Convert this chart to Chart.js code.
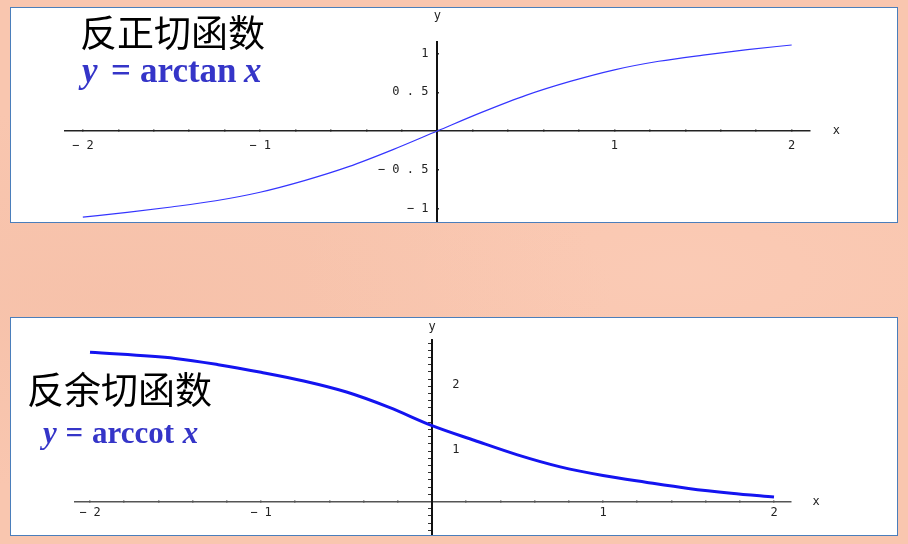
<!DOCTYPE html>
<html><head><meta charset="utf-8">
<script src="https://cdn.jsdelivr.net/npm/chart.js@4"></script>
<style>
html,body{margin:0;padding:0;}
body{width:908px;height:544px;position:relative;overflow:hidden;background:#f9c6af;
background-image:radial-gradient(ellipse at 12% 55%,rgba(238,180,155,.25),transparent 45%),radial-gradient(ellipse at 75% 50%,rgba(255,215,198,.25),transparent 40%);}
.panel{position:absolute;left:10px;width:886px;background:#fff;border:1px solid #4a7ebb;}
#p1{top:7px;height:214px;}
#p2{top:317px;height:217px;}
.panel canvas{position:absolute;left:0;top:0;}
.cn{position:absolute;font-family:"Noto Sans CJK SC";line-height:1;color:#000;white-space:nowrap;}
.fm{position:absolute;font-family:"Liberation Serif";font-weight:bold;color:#3535c8;line-height:1;white-space:pre;}
.fm i{font-style:italic;}
.fm span{position:absolute;top:0;}
</style></head>
<body>
<div class="panel" id="p1"><canvas id="c1" width="886" height="214"></canvas></div>
<div class="panel" id="p2"><canvas id="c2" width="886" height="217"></canvas></div>
<div class="cn" style="left:80px;top:13px;font-size:37px;">反正切函数</div>
<div class="fm" style="left:82px;top:53px;font-size:35px;"><span style="left:0"><i>y</i></span><span style="left:29px">=</span><span style="left:58px">arctan</span><span style="left:162px"><i>x</i></span></div>
<div class="cn" style="left:27px;top:370px;font-size:37px;">反余切函数</div>
<div class="fm" style="left:43px;top:417px;font-size:31px;word-spacing:1px;"><i>y</i> = arccot <i>x</i></div>
<script>
// ---- data ----
const arctanX = [-2,-1.75,-1.5,-1.25,-1,-0.75,-0.5,-0.25,0,0.25,0.5,0.75,1,1.25,1.5,1.75,2];
const arctanY = [-1.11,-1.05,-0.98,-0.90,-0.79,-0.64,-0.46,-0.24,0,0.24,0.46,0.64,0.79,0.90,0.98,1.05,1.11];
const arccotX = [-2,-1.5,-1.25,-1,-0.75,-0.5,-0.25,0,0.25,0.5,0.75,1,1.25,1.5,1.75,2];
const arccotY = [3.11,2.98,2.85,2.69,2.51,2.28,1.96,1.58,1.27,0.97,0.72,0.54,0.40,0.27,0.17,0.09];
const xTickLabels = [-2,-1,1,2];
const topYTickLabels = [-1,-0.5,0.5,1];
const bottomYTickLabels = [1,2];

function fmt(v){
  const a = Math.abs(v);
  const s = String(a).replace('.', ' . ');
  return v < 0 ? '\u2212 ' + s : s;
}
function xLabel(v){
  const r = Math.round(v*1000)/1000;
  return xTickLabels.includes(r) ? fmt(r) : '';
}
const monoFont = {family:'DejaVu Sans Mono', size:12};
const noPadX = s=>{s.height=0; s.paddingLeft=0; s.paddingRight=0; s.paddingTop=0; s.paddingBottom=0;};
const noPadY = s=>{s.width=0; s.paddingLeft=0; s.paddingRight=0; s.paddingTop=0; s.paddingBottom=0;};

const axisNames = {
  id:'axisNames',
  afterDraw(chart, args, o){
    const ctx = chart.ctx, sx = chart.scales.x, sy = chart.scales.y, ca = chart.chartArea;
    ctx.save();
    ctx.font = '12px "DejaVu Sans Mono"';
    ctx.fillStyle = '#222';
    ctx.textAlign = 'center';
    ctx.textBaseline = 'middle';
    ctx.fillText('x', ca.right + o.xGap, sy.getPixelForValue(0));
    ctx.fillText('y', sx.getPixelForValue(0), ca.top - o.yGap);
    ctx.restore();
  }
};

const pts = (xs, ys) => xs.map((x,i)=>({x, y: ys[i]}));

new Chart(document.getElementById('c1'), {
  type:'scatter',
  data:{datasets:[{data:pts(arctanX, arctanY), showLine:true, borderColor:'#3535ff', borderWidth:1.2,
    pointRadius:0, cubicInterpolationMode:'monotone', fill:false}]},
  options:{
    responsive:false, animation:false, devicePixelRatio:1,
    layout:{padding:{left:53.4, right:87.6, top:33.9, bottom:0.3}},
    plugins:{legend:{display:false}, tooltip:{enabled:false}, axisNames:{xGap:27, yGap:26}},
    scales:{
      x:{type:'linear', min:-2.104, max:2.1, position:{y:0},
        afterFit:noPadX,
        border:{display:true, color:'#222', width:1.5},
        grid:{display:true, drawOnChartArea:false, drawTicks:true, tickLength:-2, color:'#333', lineWidth:1.5},
        ticks:{stepSize:0.2, includeBounds:false, autoSkip:false, maxRotation:0, padding:10, font:monoFont, color:'#222', callback:v=>xLabel(v)}},
      y:{type:'linear', min:-1.17, max:1.15, position:{x:0},
        afterFit:noPadY,
        afterBuildTicks:s=>{s.ticks = topYTickLabels.map(v=>({value:v}));},
        border:{display:true, color:'#111', width:2},
        grid:{display:true, drawOnChartArea:false, drawTicks:true, tickLength:-3, color:'#333', lineWidth:1.5},
        ticks:{autoSkip:false, callback:()=>''}},
      yl:{type:'linear', min:-1.17, max:1.15, position:{x:-0.05}, axis:'y',
        afterFit:noPadY,
        afterBuildTicks:s=>{s.ticks = topYTickLabels.map(v=>({value:v}));},
        border:{display:false},
        grid:{display:false, drawTicks:false},
        ticks:{autoSkip:false, padding:0, font:monoFont, color:'#222', callback:v=>fmt(v)}}
    }
  },
  plugins:[axisNames]
});

new Chart(document.getElementById('c2'), {
  type:'scatter',
  data:{datasets:[{data:pts(arccotX, arccotY), showLine:true, borderColor:'#1414f0', borderWidth:3,
    pointRadius:0, cubicInterpolationMode:'monotone', fill:false}]},
  options:{
    responsive:false, animation:false, devicePixelRatio:1,
    layout:{padding:{left:63.6, right:105.9, top:21.7, bottom:0}},
    plugins:{legend:{display:false}, tooltip:{enabled:false}, axisNames:{xGap:25, yGap:13}},
    scales:{
      x:{type:'linear', min:-2.09, max:2.1, position:{y:0},
        afterFit:noPadX,
        border:{display:true, color:'#555', width:1.5},
        grid:{display:true, drawOnChartArea:false, drawTicks:true, tickLength:-2, color:'#444', lineWidth:1.5},
        ticks:{stepSize:0.2, includeBounds:false, autoSkip:false, maxRotation:0, padding:6, font:monoFont, color:'#222', callback:v=>xLabel(v)}},
      y:{type:'linear', min:-0.7, max:3.37, position:{x:0},
        afterFit:noPadY,
        border:{display:true, color:'#111', width:2},
        grid:{display:true, drawOnChartArea:false, drawTicks:true, tickLength:3, color:'#333', lineWidth:1},
        ticks:{stepSize:0.15, includeBounds:false, autoSkip:false, callback:()=>''}},
      yl:{type:'linear', min:-0.308, max:2.697, position:{x:0.16}, axis:'y',
        afterFit:noPadY,
        afterBuildTicks:s=>{s.ticks = bottomYTickLabels.map(v=>({value:v}));},
        border:{display:false},
        grid:{display:false, drawTicks:false},
        ticks:{autoSkip:false, padding:0, font:monoFont, color:'#222', callback:v=>fmt(v)}}
    }
  },
  plugins:[axisNames]
});
</script>
</body></html>
